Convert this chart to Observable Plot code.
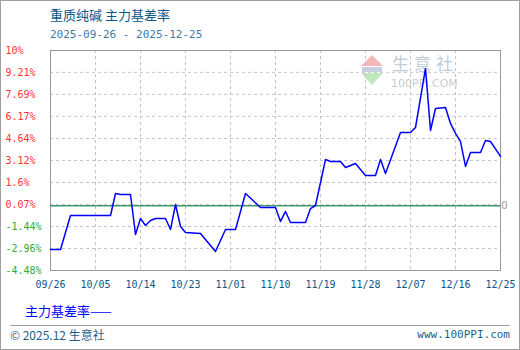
<!DOCTYPE html>
<html>
<head>
<meta charset="utf-8">
<script src="https://cdn.jsdelivr.net/npm/d3@7"></script>
<script src="https://cdn.jsdelivr.net/npm/@observablehq/plot@0.6"></script>
<style>
  body { margin: 0; background: #fff; }
  #wrap { position: relative; width: 520px; height: 350px; overflow: hidden; background: #fff; }
  #border { position: absolute; left: 0; top: 0; width: 520px; height: 350px; box-sizing: border-box; border: 1px solid #a0a0a0; pointer-events: none; }
  .t { position: absolute; white-space: nowrap; }
  #title { left: 50px; top: 6px; font: 13px "Noto Sans CJK SC", sans-serif; color: #0d5688; line-height: 18px; }
  #sub { left: 50px; top: 28px; font: 11px "DejaVu Sans Mono", monospace; color: #3f7aa6; line-height: 14px; }
  #legend { left: 25px; top: 302px; font: 13px "Noto Sans CJK SC", sans-serif; color: #0000ff; line-height: 18px; }
  #rule { position: absolute; left: 10px; top: 325px; width: 500px; height: 0; border-top: 1px solid #a0a0a0; }
  #foot1 { left: 10px; top: 327px; font: 12px "Noto Sans CJK SC", sans-serif; color: #1e5f8c; line-height: 16px; }
  #foot2 { right: 10px; top: 328px; font: 11px "DejaVu Sans Mono", monospace; color: #1e5f8c; line-height: 14px; }
  #wm { position: absolute; left: 360px; top: 54px; width: 110px; height: 34px; white-space: nowrap; }
  #wm .tri1 { position: absolute; left: 1px; top: 1px; width: 0; height: 0; border-left: 11px solid transparent; border-right: 11px solid transparent; border-bottom: 11px solid #f4b8b8; }
  #wm .bar { position: absolute; left: 2px; top: 13px; width: 20px; height: 5px; background: #c9cfe0; }
  #wm .tri2 { position: absolute; left: 1px; top: 19px; width: 0; height: 0; border-left: 11px solid transparent; border-right: 11px solid transparent; border-top: 12px solid #bfe8bf; }
  #wm .cn { position: absolute; left: 32px; top: 0px; font: 17px "Noto Sans CJK SC", sans-serif; line-height: 18px; height: 18px; color: #c3cad9; letter-spacing: 5px; white-space: nowrap; }
  #wm .en { position: absolute; left: 31px; top: 24px; font: 11px "DejaVu Sans", sans-serif; line-height: 12px; height: 12px; color: #cccccc; white-space: nowrap; }
  #chart { position: absolute; left: 0; top: 0; }
</style>
</head>
<body>
<div id="wrap">
  <div id="wm"><div class="tri1"></div><div class="bar"></div><div class="tri2"></div><div class="cn">生意社</div><div class="en">100PPI.COM</div></div>
  <div id="chart"></div>
  <div class="t" id="title">重质纯碱 主力基差率</div>
  <div class="t" id="sub">2025-09-26 - 2025-12-25</div>
  <div class="t" id="legend">主力基差率——</div>
  <div id="rule"></div>
  <div class="t" id="foot1">© 2025.12 生意社</div>
  <div class="t" id="foot2">www.100PPI.com</div>
  <div id="border"></div>
</div>
<script>
const dates = ["2025-09-26","2025-09-28","2025-09-30","2025-10-08","2025-10-09","2025-10-10","2025-10-12","2025-10-13","2025-10-14","2025-10-15","2025-10-16","2025-10-17","2025-10-19","2025-10-20","2025-10-21","2025-10-22","2025-10-23","2025-10-26","2025-10-29","2025-10-31","2025-11-02","2025-11-04","2025-11-07","2025-11-10","2025-11-11","2025-11-12","2025-11-13","2025-11-16","2025-11-17","2025-11-18","2025-11-20","2025-11-21","2025-11-23","2025-11-24","2025-11-25","2025-11-26","2025-11-28","2025-11-30","2025-12-01","2025-12-02","2025-12-05","2025-12-07","2025-12-08","2025-12-10","2025-12-11","2025-12-12","2025-12-14","2025-12-15","2025-12-16","2025-12-17","2025-12-18","2025-12-19","2025-12-21","2025-12-22","2025-12-23","2025-12-25"];
const basisRate = [-3.03,-3.03,-0.68,-0.68,0.84,0.77,0.77,-1.99,-0.89,-1.37,-1.03,-0.89,-0.89,-1.65,0.08,-1.44,-1.85,-1.92,-3.17,-1.65,-1.65,0.84,-0.13,-0.13,-1.09,-0.40,-1.16,-1.16,-0.20,0.01,3.19,3.05,3.05,2.64,2.77,2.91,2.08,2.08,3.19,2.22,5.05,5.05,5.40,9.48,5.19,6.71,6.78,5.68,4.99,4.43,2.71,3.67,3.67,4.50,4.43,3.40];
const xTickLabels = ["09/26","10/05","10/14","10/23","11/01","11/10","11/19","11/28","12/07","12/16","12/25"];
const yTickValues = [-4.48,-2.96,-1.44,0.07,1.6,3.12,4.64,6.17,7.69,9.21,10.72];
const yTickLabels = ["-4.48%","-2.96%","-1.44%","0.07%","1.6%","3.12%","4.64%","6.17%","7.69%","9.21%","10%"];

const parse = d3.utcParse("%Y-%m-%d");
const data = dates.map((d, i) => ({date: parse(d), value: basisRate[i]}));
const xTicks = xTickLabels.map(s => parse("2025-" + s.replace("/", "-")));

const mono = "DejaVu Sans Mono, monospace";
const chart = Plot.plot({
  width: 520,
  height: 300,
  marginLeft: 50,
  marginRight: 20,
  marginTop: 50,
  marginBottom: 30,
  style: {background: "transparent", overflow: "visible"},
  x: {type: "utc", domain: [xTicks[0], xTicks[xTicks.length - 1]], axis: null},
  y: {domain: [yTickValues[0], yTickValues[yTickValues.length - 1]], axis: null},
  marks: [
    Plot.gridX(xTicks, {stroke: "#c4c4c4", strokeOpacity: 1, strokeDasharray: "3,3"}),
    Plot.gridY(yTickValues, {stroke: "#c4c4c4", strokeOpacity: 1, strokeDasharray: "3,3"}),
    Plot.frame({stroke: "#999999"}),
    Plot.ruleY([0], {stroke: "#3d9a6c", strokeWidth: 1.5}),
    Plot.line(data, {x: "date", y: "value", stroke: "#0000ff", strokeWidth: 1.5}),
    Plot.text(yTickValues, {
      y: d => d, frameAnchor: "left", dx: -45, textAnchor: "start",
      text: (d, i) => yTickLabels[i],
      fill: d => d < 0 ? "#33aa33" : "#ff3333",
      fontFamily: mono, fontSize: 10
    }),
    Plot.text(xTicks, {
      x: d => d, frameAnchor: "bottom", dy: 17,
      text: (d, i) => xTickLabels[i],
      fill: "#0d5688", fontFamily: mono, fontSize: 10
    }),
    Plot.text([0], {
      y: d => d, frameAnchor: "right", dx: 7, text: () => "0",
      fill: "#999999", fontFamily: "DejaVu Sans, sans-serif", fontSize: 10
    })
  ]
});
document.getElementById("chart").appendChild(chart);
</script>
</body>
</html>
